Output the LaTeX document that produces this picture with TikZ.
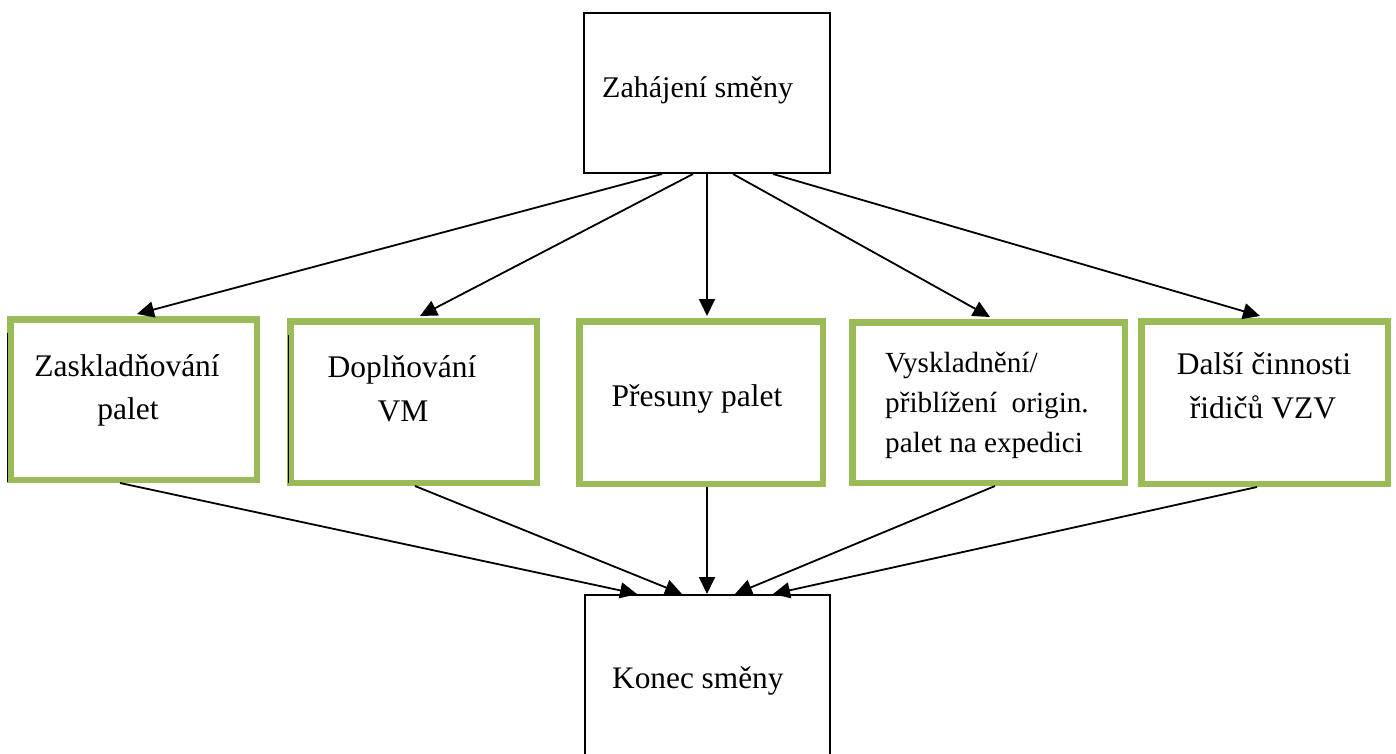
\documentclass[tikz,border=0pt]{standalone}
\usepackage{fontspec}
\setmainfont{Liberation Serif}
\usetikzlibrary{arrows.meta}
\definecolor{boxgreen}{HTML}{9BBB59}
\begin{document}
\begin{tikzpicture}[x=1pt,y=-1pt,
  blackbox/.style={rectangle,draw=black,line width=2pt,inner sep=0pt},
  greenbox/.style={rectangle,draw=boxgreen,line width=6.5pt,inner sep=0pt},
  lbl/.style={anchor=base,inner sep=0pt,font=\fontsize{31.5}{38}\selectfont},
  lblw/.style={anchor=base west,inner sep=0pt,font=\fontsize{29.2}{36}\selectfont},
  conn/.style={line width=1.8pt,-{Triangle[length=17pt,width=16pt]}},
  edgeline/.style={line width=1.3pt,black}]
\clip (0,0) rectangle (1396,754);
\fill[white] (0,0) rectangle (1396,754);

% boxes
\node[blackbox,minimum width=246pt,minimum height=160pt] (start) at (707,93) {};
\node[blackbox,minimum width=245pt,minimum height=210pt] (end) at (707.5,700) {};
\node[greenbox,minimum width=246.5pt,minimum height=160.5pt] (b1) at (133.5,399.5) {};
\node[greenbox,minimum width=246.5pt,minimum height=161.5pt] (b2) at (413.5,402) {};
\node[greenbox,minimum width=243.5pt,minimum height=162.5pt] (b3) at (701,402.5) {};
\node[greenbox,minimum width=272.5pt,minimum height=160.5pt] (b4) at (988.5,402.5) {};
\node[greenbox,minimum width=246.5pt,minimum height=162.5pt] (b5) at (1264.5,402.5) {};

% thin black edges inside the left borders
\draw[edgeline] ([xshift=0.75pt,yshift=66.5pt]b1.west) -- ([xshift=0.75pt,yshift=-82.5pt]b1.west);
\draw[edgeline] ([xshift=1.75pt,yshift=67pt]b2.west) -- ([xshift=1.75pt,yshift=-81pt]b2.west);

% texts
\node[anchor=base west,inner sep=0pt,font=\fontsize{30}{36}\selectfont] (tstart) at (602,98) {Zahájení směny};
\node[anchor=base west,inner sep=0pt,font=\fontsize{31.3}{38}\selectfont] (tend) at (612,688.5) {Konec směny};
\node[lbl] (t1a) at (127,376) {Zaskladňování};
\node[lbl] (t1b) at (128,419) {palet};
\node[lbl] (t2a) at (402,377) {Doplňování};
\node[lbl] (t2b) at (403,421) {VM};
\node[lbl] (t3) at (697,406) {Přesuny palet};
\node[lblw] (t4a) at (885,372) {Vyskladnění/};
\node[lblw] (t4b) at (885,412) {přiblížení\ \ origin.};
\node[lblw] (t4c) at (885,452) {palet na expedici};
\node[lbl] (t5a) at (1264,374) {Další činnosti};
\node[lbl] (t5b) at (1263,418) {řidičů VZV};

% connectors from start
\draw[conn] ([xshift=-45pt]start.south) -- ([xshift=3.5pt,yshift=2pt]b1.north);
\draw[conn] ([xshift=-14pt]start.south) -- ([xshift=6.5pt,yshift=2pt]b2.north);
\draw[conn] (start.south) -- ([xshift=6pt,yshift=2pt]b3.north);
\draw[conn] ([xshift=26pt]start.south) -- ([xshift=1.5pt,yshift=2pt]b4.north);
\draw[conn] ([xshift=66pt]start.south) -- ([xshift=-4.5pt,yshift=2pt]b5.north);

% connectors to end
\draw[conn] ([xshift=-13.5pt]b1.south) -- ([xshift=-70.5pt]end.north);
\draw[conn] ([xshift=1.5pt]b2.south) -- ([xshift=-25.5pt]end.north);
\draw[conn] ([xshift=6pt]b3.south) -- ([xshift=-0.5pt]end.north);
\draw[conn] ([xshift=6.5pt]b4.south) -- ([xshift=27.5pt]end.north);
\draw[conn] ([xshift=-7.5pt]b5.south) -- ([xshift=65.5pt]end.north);
\end{tikzpicture}
\end{document}
